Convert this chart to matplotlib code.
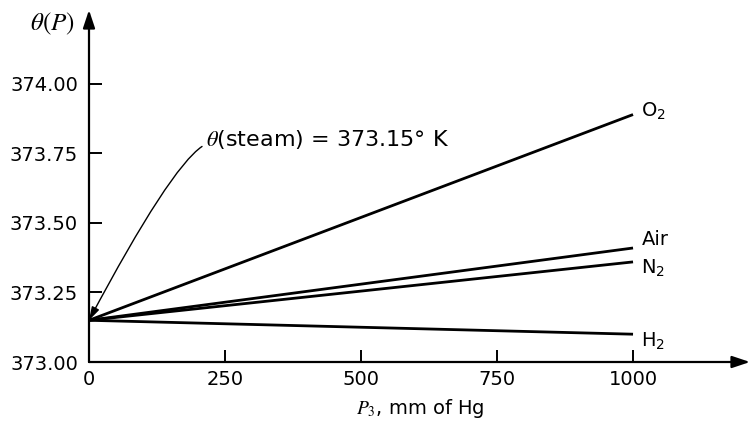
import numpy as np
import matplotlib.pyplot as plt

# gas thermometer readings at the steam point vs. bulb pressure
pressure = [0, 1000]
theta_o2 = [373.15, 373.89]
theta_air = [373.15, 373.41]
theta_n2 = [373.15, 373.36]
theta_h2 = [373.15, 373.10]
gas_labels = ['O$_2$', 'Air', 'N$_2$', 'H$_2$']

x_ticks = [0, 250, 500, 750, 1000]
y_ticks = [373.00, 373.25, 373.50, 373.75, 374.00]

plt.rcParams['font.family'] = ['DejaVu Sans']

fig = plt.figure(figsize=(7.52, 4.23), dpi=100)
ax = fig.add_axes([89 / 752, 61 / 423, 661 / 752, 352 / 423])
ax.set_xlim(0, 1215)
ax.set_ylim(373.0, 374.266)

for s in ax.spines.values():
    s.set_visible(False)

# axes drawn as arrows
ax.annotate('', xy=(1.0, 0), xytext=(0, 0), xycoords='axes fraction',
            arrowprops=dict(arrowstyle='-|>,head_length=0.6,head_width=0.2', lw=1.6,
                            color='k', mutation_scale=18, shrinkA=0, shrinkB=0))
ax.annotate('', xy=(0, 1.0), xytext=(0, 0), xycoords='axes fraction',
            arrowprops=dict(arrowstyle='-|>,head_length=0.6,head_width=0.2', lw=1.6,
                            color='k', mutation_scale=18, shrinkA=0, shrinkB=0))

lines = [theta_o2, theta_air, theta_n2, theta_h2]
label_dy = [2, 6, -5, -5]  # points
for vals, lab, dy in zip(lines, gas_labels, label_dy):
    ax.plot(pressure, vals, color='k', lw=2.0, solid_capstyle='butt')
    ax.annotate(lab, xy=(pressure[-1], vals[-1]), xytext=(6, dy), textcoords='offset points',
                fontsize=14, va='center', ha='left')

ax.set_xticks(x_ticks)
ax.set_xticklabels([str(v) for v in x_ticks])
ax.set_yticks(y_ticks)
ax.set_yticklabels(['%.2f' % v for v in y_ticks])
ax.tick_params(axis='both', direction='in', length=9, width=1.4, labelsize=14, pad=6)
ax.tick_params(axis='y', pad=8)

ax.annotate(r'$\theta$(steam) = 373.15° K', xy=(0, 373.15), xytext=(215, 373.80),
            fontsize=16, va='center', ha='left', math_fontfamily='stix',
            arrowprops=dict(arrowstyle='-|>,head_length=0.5,head_width=0.15', lw=1.0,
                            color='k', mutation_scale=16, shrinkA=1, shrinkB=0,
                            relpos=(0, 0.3),
                            connectionstyle='angle3,angleA=25,angleB=62'))

fig.text(52 / 752, 1 - 24 / 423, r'$\theta(P)$', fontsize=18, ha='center', va='center',
         math_fontfamily='stix')
fig.text(420 / 752, 1 - 408 / 423, r'$P_3$, mm of Hg', fontsize=14, ha='center', va='center',
         math_fontfamily='stix')

fig.savefig('out.png', dpi=100)
